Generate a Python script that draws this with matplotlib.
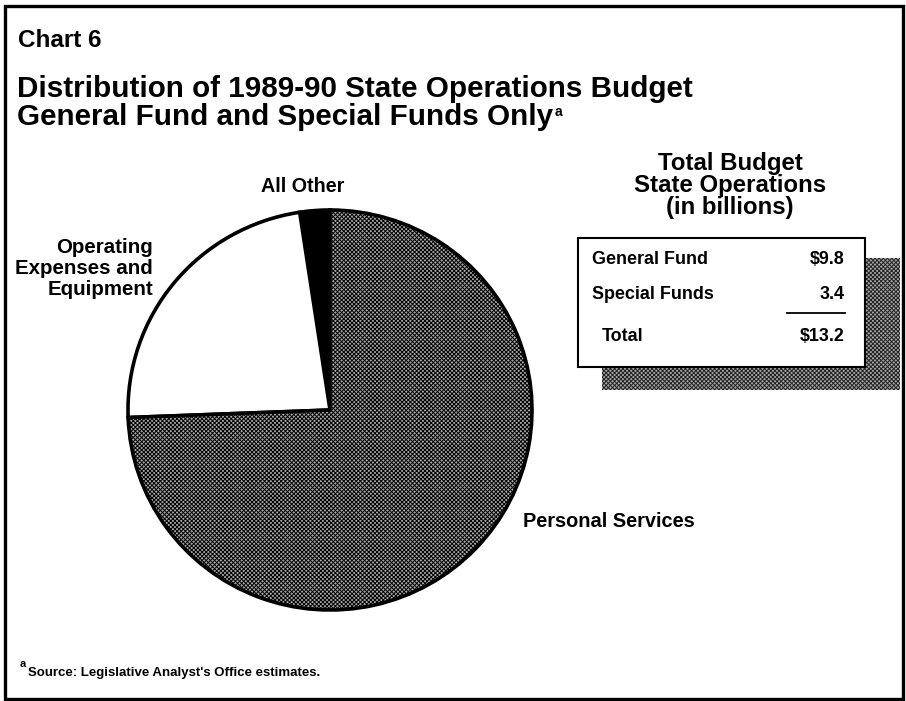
import matplotlib
matplotlib.use("Agg")
import matplotlib.pyplot as plt
from matplotlib.patches import Rectangle

plt.rcParams['font.family'] = ['Liberation Sans', 'DejaVu Sans']
plt.rcParams['hatch.linewidth'] = 0.7

# data (share of budget, %)
categories = ["All Other", "Operating\nExpenses and\nEquipment", "Personal Services"]
shares = [2.4, 23.2, 74.4]

box_rows = ["General Fund", "Special Funds", "Total"]
box_values = ["$9.8", "3.4", "$13.2"]

W, H = 906, 701
fig = plt.figure(figsize=(W / 100, H / 100), dpi=100)

# page axes in pixel coordinates (y down)
ax = fig.add_axes([0, 0, 1, 1])
ax.set_xlim(0, W)
ax.set_ylim(H, 0)
ax.axis("off")

ax.add_patch(Rectangle((5, 6), 898, 693, fill=False, ec="black", lw=2.4))

ax.text(18, 47, "Chart 6", fontsize=17.5, fontweight="bold", va="baseline")
ax.text(17, 97, "Distribution of 1989-90 State Operations Budget",
        fontsize=21.3, fontweight="bold", va="baseline")
ax.text(17, 125, "General Fund and Special Funds Only",
        fontsize=21.3, fontweight="bold", va="baseline")
ax.text(555, 116, "a", fontsize=10, fontweight="bold", va="baseline")

# slice labels
ax.text(303, 192, categories[0], fontsize=14.2, fontweight="bold", ha="center", va="baseline")
for line, y in zip(categories[1].split("\n"), [253, 274, 295]):
    ax.text(153, y, line, fontsize=14.8, fontweight="bold", ha="right", va="baseline")
ax.text(523, 527, categories[2], fontsize=14.4, fontweight="bold", ha="left", va="baseline")

# summary box
for line, y in zip(["Total Budget", "State Operations", "(in billions)"], [170, 192, 214]):
    ax.text(730, y, line, fontsize=17.3, fontweight="bold", ha="center", va="baseline")
ax.add_patch(Rectangle((602, 258), 298, 132, fc="#a8a8a8", ec="#222222", lw=0,
                       hatch="xxxxxxxx", zorder=2))
ax.add_patch(Rectangle((578, 238), 287, 129, fc="white", ec="black", lw=1.5, zorder=3))
row_y = [264, 299, 341]
row_x = [592, 592, 602]
for lab, val, y, x in zip(box_rows, box_values, row_y, row_x):
    ax.text(x, y, lab, fontsize=12.9, fontweight="bold", va="baseline", zorder=4)
    ax.text(845, y, val, fontsize=12.9, fontweight="bold", ha="right", va="baseline", zorder=4)
ax.plot([787, 845], [313, 313], color="black", lw=1.3, zorder=4)

# footnote
ax.text(20, 667, "a", fontsize=8, fontweight="bold", va="baseline")
ax.text(28, 676, "Source: Legislative Analyst's Office estimates.", fontsize=9.5,
        fontweight="bold", va="baseline")

# pie in its own axes
cx, cy, rx, ry = 330, 410, 202, 200
pax = fig.add_axes([(cx - rx) / W, 1 - (cy + ry) / H, 2 * rx / W, 2 * ry / H])
wedges, _ = pax.pie(shares, startangle=90, counterclock=True, radius=1,
                    colors=["black", "white", "#a8a8a8"],
                    wedgeprops=dict(edgecolor="black", linewidth=2.6))
wedges[2].set_hatch("xxxxxxxx")
for w in wedges:
    w.set_clip_on(False)
pax.set_aspect("auto")
pax.set_xlim(-1, 1)
pax.set_ylim(-1, 1)
pax.axis("off")

fig.savefig("out.png", dpi=100)
